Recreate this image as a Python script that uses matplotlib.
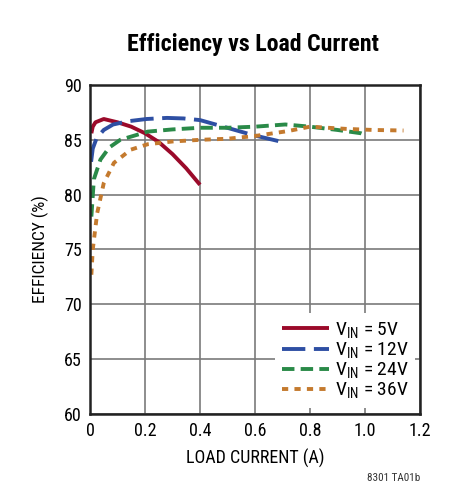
import matplotlib
matplotlib.use("Agg")
import matplotlib.pyplot as plt
from matplotlib import font_manager

# pick a condensed sans font if one is installed
_names = {f.name for f in font_manager.fontManager.ttflist}
FONT = "Roboto Condensed" if "Roboto Condensed" in _names else "Liberation Sans"
plt.rcParams['font.family'] = [FONT, 'DejaVu Sans']

# Data
x5 = [0.005, 0.01, 0.02, 0.05, 0.1, 0.15, 0.2, 0.25, 0.3, 0.35, 0.4]
y5 = [85.6, 86.2, 86.6, 86.9, 86.6, 86.2, 85.6, 84.8, 83.7, 82.4, 80.9]

x12 = [0.004, 0.01, 0.024, 0.05, 0.084, 0.14, 0.206, 0.28, 0.34, 0.40, 0.485, 0.59, 0.70]
y12 = [83.0, 84.2, 85.15, 85.9, 86.4, 86.7, 86.9, 87.0, 86.95, 86.8, 86.2, 85.45, 84.8]

x24 = [0.005, 0.014, 0.038, 0.07, 0.11, 0.21, 0.30, 0.40, 0.50, 0.60, 0.71, 0.80, 0.90, 0.985, 1.0]
y24 = [78.0, 81.4, 83.2, 84.3, 85.0, 85.75, 85.95, 86.1, 86.1, 86.2, 86.4, 86.2, 85.9, 85.6, 85.45]

x36 = [0.005, 0.01, 0.026, 0.05, 0.087, 0.148, 0.21, 0.30, 0.40, 0.50, 0.60, 0.72, 0.80, 0.93, 1.03, 1.14]
y36 = [72.7, 75.0, 78.3, 81.05, 82.9, 84.1, 84.6, 84.85, 85.0, 85.1, 85.35, 85.8, 86.2, 86.0, 85.9, 85.85]

labels = ["V$_{\\mathregular{IN}}$ = 5V", "V$_{\\mathregular{IN}}$ = 12V",
          "V$_{\\mathregular{IN}}$ = 24V", "V$_{\\mathregular{IN}}$ = 36V"]
xticks = [0, 0.2, 0.4, 0.6, 0.8, 1.0, 1.2]
xticklabels = ["0", "0.2", "0.4", "0.6", "0.8", "1.0", "1.2"]
yticks = [60, 65, 70, 75, 80, 85, 90]

fig = plt.figure(figsize=(4.75, 5), dpi=100)
ax = fig.add_axes([90/475, 1-414/500, 330/475, 329/500])

lw = 2.8
ax.plot(x5, y5, color="#9b0a2a", lw=lw, label=labels[0], solid_capstyle="butt")
ax.plot(x12, y12, color="#2e4fa3", lw=lw, label=labels[1], dashes=(6, 2.2))
ax.plot(x24, y24, color="#2a8a48", lw=lw, label=labels[2], dashes=(3.2, 1.6))
ax.plot(x36, y36, color="#c47a2e", lw=lw, label=labels[3], dashes=(1.6, 1.6))

ax.set_xlim(0, 1.2)
ax.set_ylim(60, 90)
ax.set_xticks(xticks)
ax.set_xticklabels(xticklabels)
ax.set_yticks(yticks)
ax.grid(True, color="#7a7a7a", lw=1.2)
ax.set_axisbelow(True)
ax.tick_params(length=0, labelsize=13, pad=6)
for s in ax.spines.values():
    s.set_linewidth(1.8)
    s.set_color("#222222")

ax.set_xlabel("LOAD CURRENT (A)", fontsize=13, labelpad=6)
ax.set_ylabel("EFFICIENCY (%)", fontsize=12.5, labelpad=11)

leg = ax.legend(loc="lower right", bbox_to_anchor=(1.015, -0.012), frameon=True,
                fontsize=14, handlelength=2.4, handletextpad=0.3,
                labelspacing=0.0, borderpad=0.35, fancybox=False)
leg.get_frame().set_edgecolor("none")
leg.get_frame().set_facecolor("white")
leg.get_frame().set_alpha(1)

fig.text(253/475, 1-45/500, "Efficiency vs Load Current", ha="center", va="center",
         fontsize=17.2, fontweight="bold")
fig.text(0.885, 1-478/500, "8301 TA01b", ha="right", va="center", fontsize=8, color="#333333")

fig.savefig("out.png", dpi=100, facecolor="white")
